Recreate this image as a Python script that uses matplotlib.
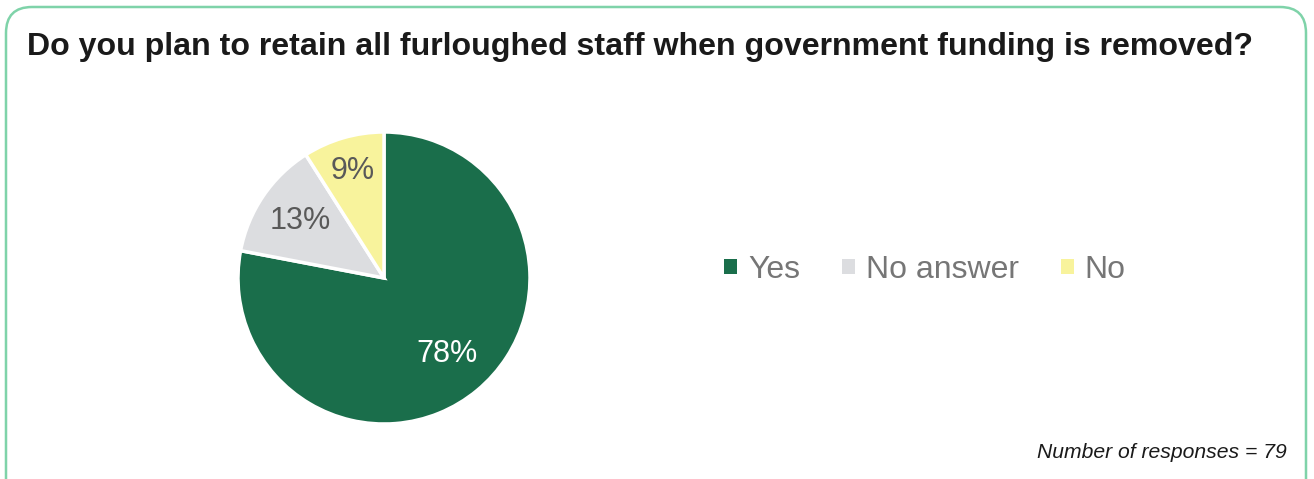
import matplotlib
matplotlib.use("Agg")
import matplotlib.pyplot as plt
from matplotlib.patches import FancyBboxPatch

# data
labels = ["Yes", "No answer", "No"]
shares = [78, 13, 9]
colors = ["#1a6e4b", "#dcdde0", "#f8f39c"]
label_colors = ["white", "#595959", "#595959"]
label_dist = [0.68, 0.69, 0.76]

title = "Do you plan to retain all furloughed staff when government funding is removed?"
note = "Number of responses = 79"

plt.rcParams["font.family"] = ["Liberation Sans", "DejaVu Sans"]

W, H = 1314, 479
fig = plt.figure(figsize=(W / 100, H / 100), dpi=100)

# rounded green frame (bottom edge runs off the image)
frame = FancyBboxPatch((0.06, -0.3), 13.0, 5.02,
                       boxstyle="round,pad=0,rounding_size=0.26",
                       transform=fig.dpi_scale_trans, zorder=-5,
                       facecolor="white", edgecolor="#7fd3a9", linewidth=1.8)
fig.patches.append(frame)

fig.text(27 / W, 1 - 47 / H, title, fontsize=23.1, fontweight="bold",
         color="#1a1a1a", ha="left", va="center")

# pie
cx, cy, r = 384, 278, 150
ax = fig.add_axes([(cx - r) / W, (H - cy - r) / H, 2 * r / W, 2 * r / H])
ax.set_zorder(2)
wedges, texts, autotexts = ax.pie(
    shares, colors=colors, startangle=90, counterclock=False,
    radius=146 / 150, autopct="%d%%", pctdistance=0.7,
    wedgeprops=dict(edgecolor="white", linewidth=2.5),
    textprops=dict(fontsize=22))
for t, c, d in zip(autotexts, label_colors, label_dist):
    x, y = t.get_position()
    s = d / 0.7
    t.set_position((x * s, y * s))
    t.set_color(c)
ax.set_xlim(-1, 1)
ax.set_ylim(-1, 1)
ax.axis("off")

leg = fig.legend(wedges, labels, loc="center", bbox_to_anchor=(925 / W, 1 - 270 / H),
                 ncol=3, frameon=False, fontsize=23,
                 handlelength=0.41, handleheight=0.38, handletextpad=0.34,
                 columnspacing=1.31, labelcolor="#767676")
for h in leg.legend_handles:
    h.set_edgecolor("none")

fig.text(1287 / W, 1 - 452 / H, note, fontsize=15.2, style="italic",
         color="#1a1a1a", ha="right", va="center")

fig.savefig("out.png", dpi=100, facecolor="white")
